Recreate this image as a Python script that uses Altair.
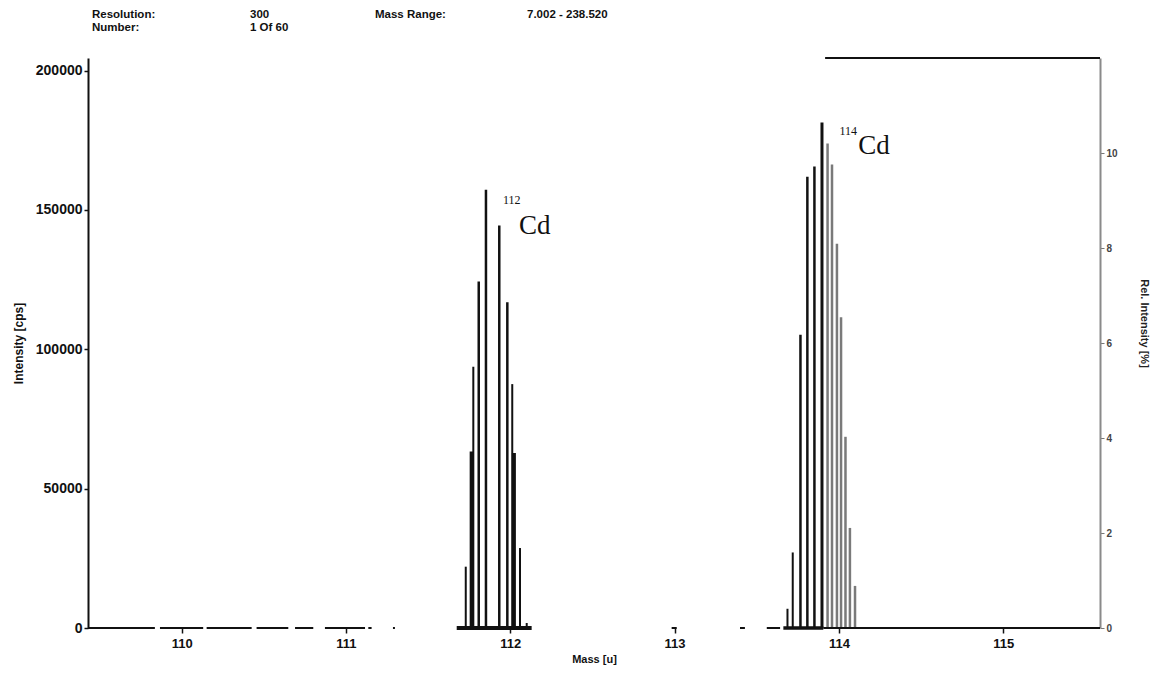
import altair as alt
import pandas as pd

# ---- data ----
cd112_mass = [111.729, 111.765, 111.775, 111.808, 111.852, 111.933, 111.982, 112.012, 112.022, 112.059, 112.100]
cd112_int = [22000, 63300, 93700, 124300, 157200, 144400, 116900, 87500, 62800, 28700, 1800]
cd112_weight = [2, 4, 2, 2.5, 2.5, 2.5, 2.5, 2, 4, 2, 2]
cd112_tone = ["black"] * 11

cd114_mass = [113.687, 113.719, 113.766, 113.808, 113.851, 113.897, 113.931, 113.958, 113.988, 114.013, 114.040, 114.067, 114.098]
cd114_int = [6900, 27100, 105200, 161900, 165600, 181400, 173800, 166300, 137900, 111500, 68600, 35900, 15100]
cd114_weight = [2, 2, 2.5, 2.5, 2.5, 3, 2.5, 2.5, 2.5, 2.5, 2.5, 2.5, 2.5]
cd114_tone = ["black"] * 6 + ["gray"] * 7

base_start = [109.430, 109.868, 110.152, 110.456, 110.690, 110.872, 111.136, 111.286, 111.674, 112.982, 113.398, 113.561, 113.662, 113.905]
base_end = [109.837, 110.131, 110.426, 110.649, 110.801, 111.116, 111.156, 111.298, 112.130, 113.013, 113.428, 113.642, 113.905, 115.589]
base_weight = [2, 2, 2, 2, 2, 2, 2, 2, 4, 2, 2, 2, 3.5, 2]

top_border_start = [113.916]
top_border_end = [115.589]

x_ticks = [110, 111, 112, 113, 114, 115]
y_ticks = [0, 50000, 100000, 150000, 200000]
rel_ticks = [0, 2, 4, 6, 8, 10]

x_domain = [109.430, 115.589]
y_domain = [0, 204500]
rel_domain = [0, 12]

iso_labels = ["112", "114"]
iso_num_mass = [111.956, 114.003]
iso_num_int = [152000, 177000]
iso_sym_mass = [112.053, 114.118]
iso_sym_int = [141500, 170000]

header_left = ["Resolution:", "Number:"]
header_left_val = ["300", "1 Of 60"]
header_right = ["Mass Range:"]
header_right_val = ["7.002 - 238.520"]

FONT = "Liberation Sans"
W, H = 1012, 570

peaks = pd.DataFrame({
    "mass": cd112_mass + cd114_mass,
    "intensity": cd112_int + cd114_int,
    "weight": cd112_weight + cd114_weight,
    "tone": cd112_tone + cd114_tone,
})
baseline = pd.DataFrame({"x0": base_start, "x1": base_end, "w": base_weight,
                         "lvl": [0] * len(base_start)})
topb = pd.DataFrame({"x0": top_border_start, "x1": top_border_end})
iso = pd.DataFrame({"num": iso_labels, "nm": iso_num_mass, "ni": iso_num_int,
                    "sm": iso_sym_mass, "si": iso_sym_int, "sym": ["Cd", "Cd"]})

xscale = alt.Scale(domain=x_domain, nice=False, zero=False)
yscale = alt.Scale(domain=y_domain, nice=False)

peak_layer = alt.Chart(peaks).mark_rule().encode(
    x=alt.X("mass:Q", scale=xscale,
            axis=alt.Axis(values=x_ticks, format="d", title="Mass [u]", domain=False,
                          grid=False, tickSize=5, tickColor="#111", tickWidth=1.5,
                          labelFont=FONT, labelFontSize=13, labelFontWeight="bold",
                          labelColor="#111", labelPadding=4,
                          titleFont=FONT, titleFontSize=11, titleFontWeight="bold",
                          titleColor="#111", titlePadding=3)),
    y=alt.Y("intensity:Q", scale=yscale,
            axis=alt.Axis(values=y_ticks, format="d", title="Intensity [cps]", grid=False,
                          domainColor="#111", domainWidth=2, tickColor="#111", tickSize=4,
                          tickWidth=1.5, labelFont=FONT, labelFontSize=14,
                          labelFontWeight="bold", labelColor="#111", labelPadding=2,
                          titleFont=FONT, titleFontSize=12, titleFontWeight="bold",
                          titleColor="#111", titlePadding=10)),
    y2=alt.datum(0),
    color=alt.Color("tone:N", scale=alt.Scale(domain=["black", "gray"],
                                              range=["#111111", "#7a7a7a"]), legend=None),
    strokeWidth=alt.StrokeWidth("weight:Q", scale=None),
)

base_layer = alt.Chart(baseline).mark_rule(color="#111").encode(
    x=alt.X("x0:Q", scale=xscale),
    x2="x1:Q",
    y=alt.Y("lvl:Q", scale=yscale),
    strokeWidth=alt.StrokeWidth("w:Q", scale=None),
)

top_layer = alt.Chart(topb).mark_rule(color="#111", strokeWidth=2).encode(
    x=alt.X("x0:Q", scale=xscale), x2="x1:Q", y=alt.value(0)
)

num_layer = alt.Chart(iso).mark_text(font="Liberation Serif", fontSize=12, align="left",
                                     baseline="alphabetic", color="#111").encode(
    x=alt.X("nm:Q", scale=xscale), y=alt.Y("ni:Q", scale=yscale), text="num:N"
)
sym_layer = alt.Chart(iso).mark_text(font="Liberation Serif", fontSize=27, align="left",
                                     baseline="alphabetic", color="#111").encode(
    x=alt.X("sm:Q", scale=xscale), y=alt.Y("si:Q", scale=yscale), text="sym:N"
)

def header(txt, x, y):
    return alt.Chart(pd.DataFrame({"t": [txt]})).mark_text(
        font=FONT, fontSize=11.5, fontWeight="bold", align="left", baseline="top",
        color="#111").encode(x=alt.value(x), y=alt.value(y), text="t:N")

headers = [
    header(header_left[0], 4, -49), header(header_left[1], 4, -36),
    header(header_left_val[0], 162, -49), header(header_left_val[1], 162, -36),
    header(header_right[0], 287, -49), header(header_right_val[0], 439, -49),
]

left = alt.layer(peak_layer, base_layer, top_layer, num_layer, sym_layer, *headers)

right = alt.Chart(pd.DataFrame({"rel": rel_ticks})).mark_point(opacity=0).encode(
    y=alt.Y("rel:Q", scale=alt.Scale(domain=rel_domain, nice=False),
            axis=alt.Axis(orient="right", values=rel_ticks, format="d",
                          title="Rel. Intensity [%]", grid=False,
                          domainColor="#8a8a8a", domainWidth=2, tickColor="#777",
                          tickSize=4, labelFont=FONT, labelFontSize=10,
                          labelFontWeight="bold", labelColor="#444", labelPadding=2,
                          titleFont=FONT, titleFontSize=11, titleFontWeight="bold",
                          titleColor="#222", titlePadding=21, titleY=265))
)

chart = alt.layer(left, right).resolve_scale(y="independent").properties(
    width=W, height=H,
    autosize=alt.AutoSizeParams(type="none"),
    padding={"left": 80, "top": 50, "right": 55, "bottom": 40},
    background="white",
).configure_view(stroke=None)

chart.save("out.html", embed_options={"renderer": "svg", "actions": False})
